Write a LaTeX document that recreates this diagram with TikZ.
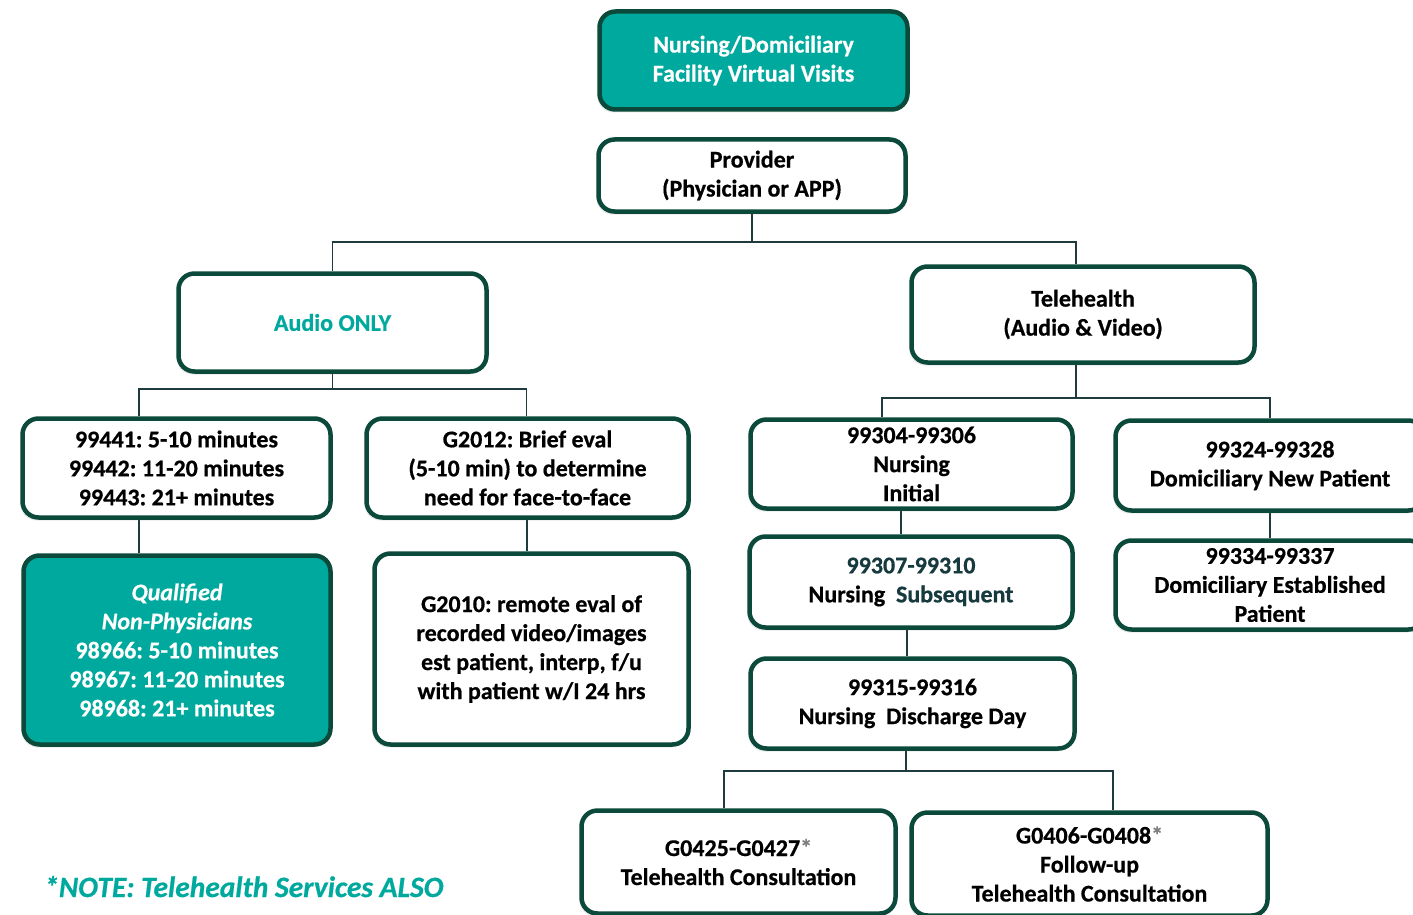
\documentclass[tikz,border=0pt]{standalone}
\usepackage{fontspec}
\setmainfont{Carlito}[BoldFeatures={FakeBold=0.6},BoldItalicFeatures={FakeBold=0.6}]
\usetikzlibrary{shadows,backgrounds,calc}
\definecolor{tealfill}{HTML}{00A99D}
\definecolor{bord}{HTML}{0B4A3B}
\definecolor{connc}{HTML}{1E3B3D}
\definecolor{slate}{HTML}{173A3E}
\definecolor{astc}{HTML}{7F7F7F}
\frenchspacing
\begin{document}
\frenchspacing
\begin{tikzpicture}[x=1pt,y=-1pt,
  box/.style={draw=bord, line width=4.5pt, rounded corners=16pt, fill=white, align=center,
    font=\fontsize{24}{29}\selectfont\bfseries, inner sep=0pt,
    drop shadow={shadow xshift=-2pt, shadow yshift=-3pt, opacity=0.18}},
  tealbox/.style={box, fill=tealfill, text=white},
  conn/.style={draw=connc, line width=1.5pt}]
\clip (0,0) rectangle (1413,915);

\node[tealbox, minimum width=308pt, minimum height=98pt] (top) at (753.5,60.5) {Nursing/Domiciliary\\Facility Virtual Visits};
\node[box, minimum width=307pt, minimum height=72pt] (prov) at (752,175.5) {Provider\\(Physician or APP)};
\node[box, minimum width=308pt, minimum height=98pt, text=tealfill] (audio) at (332.5,322.5) {Audio ONLY};
\node[box, minimum width=343pt, minimum height=96pt] (tele) at (1083,314.5) {Telehealth\\(Audio \& Video)};
\node[box, minimum width=308pt, minimum height=99pt] (n944) at (176.5,468) {99441: 5-10 minutes\\99442: 11-20 minutes\\99443: 21+ minutes};
\node[box, minimum width=322pt, minimum height=99pt] (g2012) at (527.5,468) {G2012: Brief eval\\(5-10 min) to determine\\need for face-to-face};
\node[tealbox, minimum width=307pt, minimum height=189pt] (qual) at (177,650) {{\itshape Qualified}\\{\itshape Non-Physicians}\\98966: 5-10 minutes\\98967: 11-20 minutes\\98968: 21+ minutes};
\node[box, minimum width=314pt, minimum height=191pt] (g2010) at (531.5,649) {G2010: remote eval of\\recorded video/images\\est patient, interp, f/u\\with patient w/I 24 hrs};
\node[box, minimum width=322pt, minimum height=89pt] (n9930) at (911.5,464) {99304-99306\\Nursing\\Initial};
\node[box, minimum width=309pt, minimum height=90pt] (n9932) at (1270,465.5) {99324-99328\\Domiciliary New Patient};
\node[box, minimum width=323pt, minimum height=91pt] (n9931) at (911,582) {\textcolor{slate}{99307-99310}\\Nursing\ \ \textcolor{slate}{Subsequent}};
\node[box, minimum width=309pt, minimum height=89pt] (n9933) at (1270,585) {99334-99337\\Domiciliary Established\\Patient};
\node[box, minimum width=324pt, minimum height=90pt] (n9935) at (912.5,703.5) {99315-99316\\Nursing\ \ Discharge Day};
\node[box, minimum width=314pt, minimum height=103pt] (g0425) at (738.5,862) {G0425-G0427\textcolor{astc}{*}\\Telehealth Consultation};
\node[box, minimum width=356pt, minimum height=103pt] (g0406) at (1089.5,864) {G0406-G0408\textcolor{astc}{*}\\Follow-up\\Telehealth Consultation};

\node[anchor=base west, inner sep=0pt, text=tealfill, font=\fontsize{29.5}{34}\selectfont\bfseries\itshape] (note) at (44,897) {*NOTE: Telehealth Services ALSO};

\begin{scope}[on background layer]
\coordinate (j1) at ($(prov.south)+(0,28)$);
\draw[conn] (prov.south) -- (j1) -| (audio.north);
\draw[conn] (j1) -| ([xshift=-7pt]tele.north);
\coordinate (j2) at ($(audio.south)+(0,15)$);
\draw[conn] (audio.south) -- (j2) -| ([xshift=-37.5pt]n944.north);
\draw[conn] (j2) -| ([xshift=-1pt]g2012.north);
\draw[conn] ([xshift=-37.5pt]n944.south) -- ([xshift=-38pt]qual.north);
\draw[conn] ([xshift=-0.5pt]g2012.south) -- ([xshift=-4.5pt]g2010.north);
\coordinate (j3) at ($([xshift=-7pt]tele.south)+(0,33)$);
\draw[conn] ([xshift=-7pt]tele.south) -- (j3) -| ([xshift=-29.5pt]n9930.north);
\draw[conn] (j3) -| (n9932.north);
\draw[conn] ([xshift=-10.5pt]n9930.south) -- ([xshift=-10pt]n9931.north);
\draw[conn] (n9932.south) -- (n9933.north);
\draw[conn] ([xshift=-4pt]n9931.south) -- ([xshift=-5.5pt]n9935.north);
\coordinate (j4) at ($([xshift=-6.5pt]n9935.south)+(0,20)$);
\draw[conn] ([xshift=-6.5pt]n9935.south) -- (j4) -| ([xshift=-14.5pt]g0425.north);
\draw[conn] (j4) -| ([xshift=23.5pt]g0406.north);
\end{scope}
\end{tikzpicture}
\end{document}
